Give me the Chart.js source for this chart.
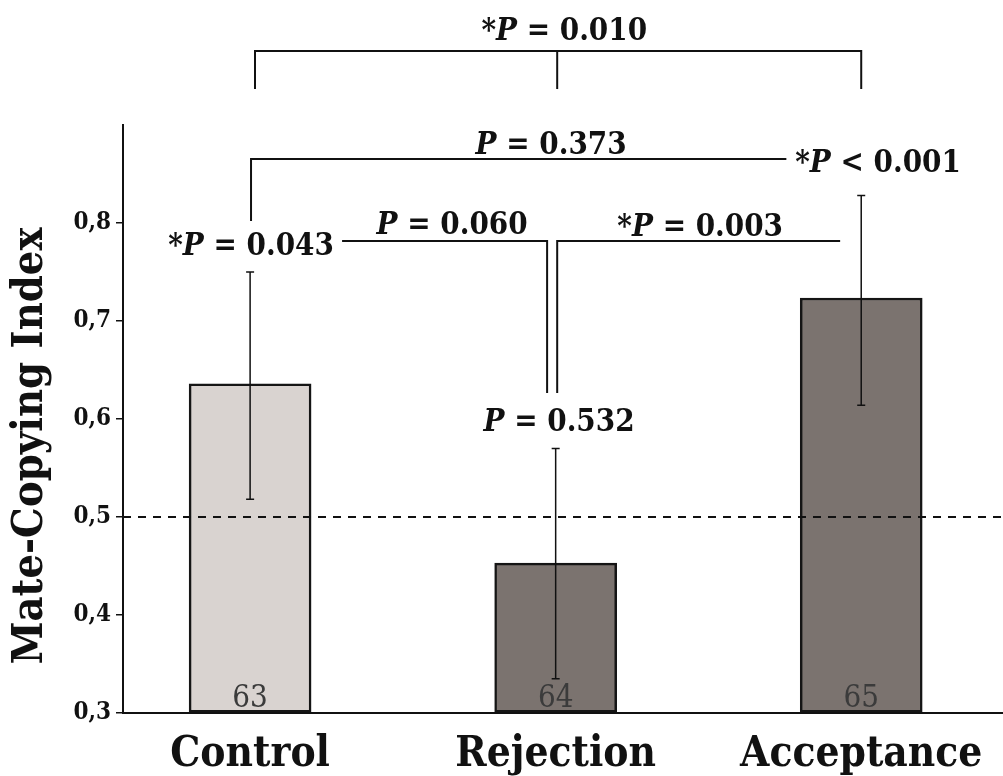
<!DOCTYPE html>
<html>
<head>
<meta charset="utf-8">
<script src="https://cdn.jsdelivr.net/npm/chart.js@4.4.1/dist/chart.umd.min.js"></script>
<style>
  html, body { margin: 0; padding: 0; background: #fff; }
  #wrap { width: 1003px; height: 776px; }
</style>
</head>
<body>
<div id="wrap"><canvas id="chart" width="1003" height="776"></canvas></div>
<script>
const categories = ["Control", "Rejection", "Acceptance"];
const means = [0.636, 0.453, 0.7235];
const errLow = [0.518, 0.335, 0.614];
const errHigh = [0.750, 0.570, 0.828];
const counts = [63, 64, 65];
const yTicks = [0.3, 0.4, 0.5, 0.6, 0.7, 0.8];
const chanceLevel = 0.5;
const pLabels = ["*P = 0.010", "P = 0.373", "*P < 0.001", "P = 0.060", "*P = 0.003", "*P = 0.043", "P = 0.532"];

const serif = "'DejaVu Serif Condensed', 'DejaVu Serif', serif";
const barColors = ["#d9d3d0", "#7b736f", "#7b736f"];

// draws "*P = 0.043" with the P in bold italic
function drawPText(ctx, label, x, y, size, align) {
  const idx = label.indexOf("P");
  const parts = [
    { t: label.slice(0, idx), f: `bold ${size}px ${serif}` },
    { t: "P", f: `italic bold ${size}px ${serif}` },
    { t: label.slice(idx + 1), f: `bold ${size}px ${serif}` },
  ];
  let total = 0;
  parts.forEach((p) => {
    ctx.font = p.f;
    p.w = ctx.measureText(p.t).width;
    total += p.w;
  });
  let cx = align === "left" ? x : x - total / 2;
  ctx.textAlign = "left";
  ctx.textBaseline = "alphabetic";
  parts.forEach((p) => {
    ctx.font = p.f;
    ctx.fillText(p.t, cx, y + size * 0.365);
    cx += p.w;
  });
}

const extras = {
  id: "extras",
  afterDatasetsDraw(chart) {
    const { ctx, scales: { x, y } } = chart;
    const px = (v) => x.getPixelForValue(v);
    const py = (v) => y.getPixelForValue(v);
    ctx.save();

    // error bars
    ctx.strokeStyle = "#111";
    ctx.lineWidth = 1.5;
    means.forEach((m, i) => {
      const cx = px(i + 1);
      ctx.beginPath();
      ctx.moveTo(cx, py(errLow[i]));
      ctx.lineTo(cx, py(errHigh[i]));
      ctx.moveTo(cx - 4, py(errLow[i]));
      ctx.lineTo(cx + 4, py(errLow[i]));
      ctx.moveTo(cx - 4, py(errHigh[i]));
      ctx.lineTo(cx + 4, py(errHigh[i]));
      ctx.stroke();
    });

    // chance line
    ctx.setLineDash([8, 7]);
    ctx.lineWidth = 1.8;
    ctx.beginPath();
    ctx.moveTo(x.left, py(chanceLevel));
    ctx.lineTo(x.right, py(chanceLevel));
    ctx.stroke();
    ctx.setLineDash([]);

    // sample sizes
    ctx.fillStyle = "#3b3b3b";
    ctx.font = `31px ${serif}`;
    ctx.textAlign = "center";
    ctx.textBaseline = "alphabetic";
    counts.forEach((n, i) => {
      ctx.fillText(String(n), px(i + 1), py(y.min) - 6);
    });
    ctx.restore();
  },
  afterDraw(chart) {
    const { ctx, scales: { x, y } } = chart;
    const px = (v) => x.getPixelForValue(v);
    const py = (v) => y.getPixelForValue(v);
    ctx.save();
    ctx.strokeStyle = "#111";
    ctx.lineWidth = 2;
    const path = (pts) => {
      ctx.beginPath();
      pts.forEach(([a, b], k) => (k ? ctx.lineTo(px(a), py(b)) : ctx.moveTo(px(a), py(b))));
      ctx.stroke();
    };
    // Control vs Rejection vs Acceptance
    path([[1.016, 0.9367], [1.016, 0.9755], [3.0, 0.9755], [3.0, 0.9367]]);
    path([[2.005, 0.9755], [2.005, 0.9367]]);
    // Control vs Acceptance
    path([[1.003, 0.802], [1.003, 0.8653], [2.755, 0.8653]]);
    // Control vs Rejection, Rejection vs Acceptance
    path([[1.301, 0.7816], [1.972, 0.7816], [1.972, 0.6265]]);
    path([[2.005, 0.6265], [2.005, 0.7816], [2.931, 0.7816]]);

    ctx.fillStyle = "#111";
    drawPText(ctx, pLabels[0], px(2.028), py(0.998), 31, "center");
    drawPText(ctx, pLabels[1], px(1.985), py(0.8816), 31, "center");
    drawPText(ctx, pLabels[2], px(2.784), py(0.8633), 31, "left");
    drawPText(ctx, pLabels[3], px(1.661), py(0.800), 31, "center");
    drawPText(ctx, pLabels[4], px(2.473), py(0.798), 31, "center");
    drawPText(ctx, pLabels[5], px(1.003), py(0.779), 31, "center");
    drawPText(ctx, pLabels[6], px(2.011), py(0.599), 31, "center");
    ctx.restore();
  },
};

new Chart(document.getElementById("chart"), {
  type: "bar",
  data: {
    datasets: [
      {
        data: means.map((m, i) => ({ x: i + 1, y: m })),
        base: 0.3,
        backgroundColor: barColors,
        borderColor: "#151515",
        borderWidth: 2.5,
        borderSkipped: false,
        barThickness: 122,
      },
    ],
  },
  options: {
    responsive: false,
    animation: false,
    layout: { padding: { top: 125, left: 0, right: 0, bottom: 0 } },
    plugins: { legend: { display: false }, tooltip: { enabled: false } },
    scales: {
      x: {
        type: "linear",
        offset: false,
        min: 0.584,
        max: 3.464,
        grid: { display: false, drawTicks: false, offset: false },
        border: { display: true, color: "#111", width: 2 },
        afterBuildTicks: (s) => {
          s.ticks = categories.map((c, i) => ({ value: i + 1 }));
        },
        afterFit: (s) => {
          s.height = 63;
        },
        ticks: {
          autoSkip: false,
          maxRotation: 0,
          minRotation: 0,
          padding: 17,
          color: "#111",
          font: { family: serif, size: 42, weight: "bold" },
          callback: (v) => categories[v - 1],
        },
      },
      y: {
        min: 0.3,
        max: 0.9,
        grid: { display: true, drawOnChartArea: false, drawTicks: true, tickLength: 7, color: "#111", lineWidth: 1.5 },
        border: { display: true, color: "#111", width: 2 },
        afterBuildTicks: (s) => {
          s.ticks = yTicks.map((v) => ({ value: v }));
        },
        afterFit: (s) => {
          s.width = 123;
        },
        title: {
          display: true,
          text: "Mate-Copying Index    ",
          color: "#111",
          font: { family: serif, size: 43, weight: "bold" },
          padding: { top: 5, bottom: 0 },
        },
        ticks: {
          padding: 5,
          color: "#111",
          font: { family: serif, size: 24, weight: "bold" },
          callback: (v) => v.toFixed(1).replace(".", ","),
        },
      },
    },
  },
  plugins: [extras],
});
</script>
</body>
</html>
